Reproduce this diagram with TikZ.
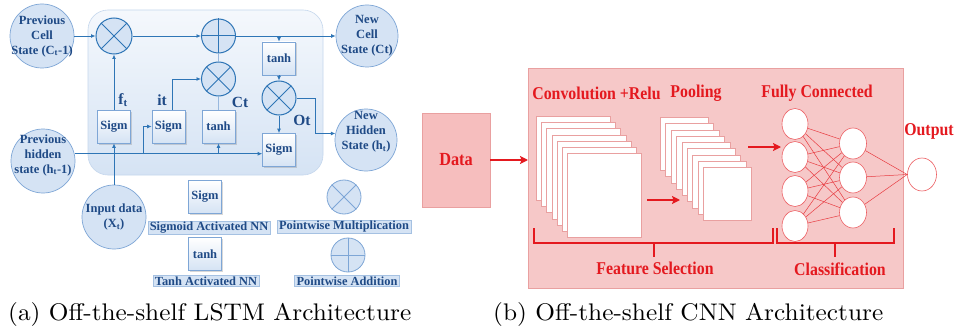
\documentclass[tikz,border=0pt]{standalone}
\usepackage{fontspec}
\newfontfamily\dfont{Liberation Serif}
\newfontfamily\rfont[FakeStretch=0.88]{Liberation Serif}
\usetikzlibrary{arrows.meta,shapes.geometric,shadows,calc}
\definecolor{lblue}{HTML}{2E75B6}
\definecolor{tblue}{HTML}{1F4A86}
\definecolor{cfill}{HTML}{D5E3F4}
\definecolor{cdraw}{HTML}{7EA6D6}
\definecolor{pfill}{HTML}{F6C8C8}
\definecolor{pdraw}{HTML}{E9A0A0}
\definecolor{rred}{HTML}{E4191F}
\tikzset{
  bigcirc/.style={circle, minimum size=64pt, inner sep=0pt, fill=cfill, draw=cdraw, line width=0.7pt},
  ctext/.style={align=center, text=tblue, inner sep=0pt, font=\dfont\bfseries\fontsize{12.5}{15}\selectfont},
  opc/.style={circle, minimum size=34pt, inner sep=0pt, fill=cfill, draw=lblue, line width=1pt},
  gbox/.style={rectangle, minimum width=33pt, minimum height=33pt, inner sep=0pt, draw=cdraw, line width=0.6pt,
    top color=white, bottom color=cfill, drop shadow={opacity=0.3, shadow xshift=1.5pt, shadow yshift=-1.5pt},
    text=tblue, font=\dfont\bfseries\fontsize{12.5}{14}\selectfont},
  legl/.style={fill=cfill, draw=cdraw!70, line width=0.5pt, inner xsep=2pt, inner ysep=1pt, text=tblue,
    font=\dfont\bfseries\fontsize{12.4}{14}\selectfont},
  glabel/.style={text=tblue, inner sep=0pt, font=\dfont\bfseries\fontsize{15.5}{17}\selectfont},
  barrow/.style={draw=lblue, line width=0.9pt, -{Latex[length=4.5pt,width=4pt]}},
  bline/.style={draw=lblue, line width=0.9pt},
  gline/.style={draw=cdraw!80, line width=0.9pt},
  rtext/.style={text=rred, inner sep=0pt, font=\rfont\bfseries\fontsize{18}{20}\selectfont},
  rarrow/.style={draw=rred, line width=1.5pt, -{Stealth[length=8pt,width=8pt,inset=1.5pt]}},
  rline/.style={draw=rred!85, line width=0.5pt},
  brack/.style={draw=rred, line width=2.3pt},
  sq/.style={rectangle, anchor=north west, inner sep=0pt, fill=white, draw=pdraw, line width=0.6pt},
  fcn/.style={ellipse, inner sep=0pt, fill=white, draw=rred!70, line width=0.6pt},
  capt/.style={anchor=base west, inner sep=0pt}
}
\begin{document}
\begin{tikzpicture}[x=1pt,y=-1pt]
\useasboundingbox (0,0) rectangle (956,329);
\fill[white] (0,0) rectangle (956,329);

% ---------------- LSTM ----------------
\node[rectangle, rounded corners=20pt, minimum width=235pt, minimum height=165pt, inner sep=0pt,
      draw=cdraw!45, line width=0.6pt, top color=cfill!25, bottom color=cfill] (cell) at (205.5,92.5) {};

\node[bigcirc] (cprev) at (42,36) {};
\node[ctext] (cprevt) at (42,36) {Previous\\Cell\\State (C\textsubscript{t}-1)};
\node[bigcirc] (hprev) at (43,161) {};
\node[ctext] (hprevt) at (43,155) {Previous\\hidden\\state (h\textsubscript{t}-1)};
\node[bigcirc] (xin) at (114,217) {};
\node[ctext] (xint) at (114,217) {Input data\\(X\textsubscript{t})};
\node[bigcirc, minimum size=62pt] (ncell) at (367,36) {};
\node[ctext] (ncellt) at (367,36) {New\\Cell\\State (Ct)};
\node[bigcirc, minimum size=62pt] (nhid) at (366,140) {};
\node[ctext] (nhidt) at (366,132) {New\\Hidden\\State (h\textsubscript{t})};

% operators
\node[opc, minimum size=36pt] (m1) at (114,36) {};
\node[opc] (a1) at (218.5,36) {};
\node[opc] (m2) at (218.5,79) {};
\node[opc] (m3) at (279,98) {};
\draw[lblue, line width=1pt] (m1.north west) -- (m1.south east) (m1.north east) -- (m1.south west);
\draw[lblue, line width=1pt] (m2.north west) -- (m2.south east) (m2.north east) -- (m2.south west);
\draw[lblue, line width=1pt] (m3.north west) -- (m3.south east) (m3.north east) -- (m3.south west);
\draw[lblue, line width=1pt] (a1.north) -- (a1.south) (a1.west) -- (a1.east);

% boxes
\node[gbox] (sf) at (114,126.5) {Sigm};
\node[gbox] (si) at (168.5,126.5) {Sigm};
\node[gbox] (tm) at (218.5,126.5) {tanh};
\node[gbox] (tt) at (279,58.5) {tanh};
\node[gbox] (so) at (279,150) {Sigm};

% labels
\node[glabel] (lf) at (123,100) {f\textsubscript{t}};
\node[glabel] (li) at (162,100) {it};
\node[glabel] (lc) at (240,102) {Ct};
\node[glabel] (lo) at (302,120) {Ot};

% connectors
\draw[barrow] (cprev.east) -- (m1.west);
\draw[barrow] (m1.east) -- (a1.west);
\draw[barrow] (a1.east) -- (ncell.west);
\coordinate (br1) at (279,36);
\draw[barrow] (br1) -- (tt.north);
\draw[barrow] (tt.south) -- (m3.north);
\draw[barrow] (m3.south) -- (so.north);
\coordinate (k1) at (315,98);
\draw[barrow] (m3.east) -- (k1) |- (nhid.168);
\draw[barrow] (hprev.13) -- (so.west |- hprev.13);
\coordinate (b2) at (143,154);
\draw[barrow] (b2) |- (si.west);
\draw[barrow] (tm.south |- b2) -- (tm.south);
\draw[barrow] (xin) -- (sf);
\draw[barrow] (sf) -- (m1);
\coordinate (sit) at (172,110);
\draw[barrow] (sit) |- (m2.west);
\draw[gline] (tm.north) -- (m2.south);
\draw[gline] (m2.north) -- (a1.south);

% legend
\node[gbox] (lsig) at (205,197) {Sigm};
\node[legl] (lsigt) at (209,228) {Sigmoid Activated NN};
\node[gbox] (ltanh) at (205,254) {tanh};
\node[legl] (ltanht) at (206,281) {Tanh Activated NN};
\node[opc, draw=cdraw, line width=0.8pt] (lm) at (344,197) {};
\draw[cdraw, line width=0.8pt] (lm.north west) -- (lm.south east) (lm.north east) -- (lm.south west);
\node[legl] (lmt) at (344,227) {Pointwise Multiplication};
\node[opc, draw=cdraw, line width=0.8pt] (la) at (348,255) {};
\draw[cdraw, line width=0.8pt] (la.north) -- (la.south) (la.west) -- (la.east);
\node[legl] (lat) at (347,281) {Pointwise Addition};

% ---------------- CNN ----------------
\node[rectangle, anchor=north west, minimum width=375pt, minimum height=220pt, inner sep=0pt,
      fill=pfill, draw=pdraw, line width=0.8pt] (cnn) at (528,68) {};
\node[rectangle, minimum width=68pt, minimum height=94pt, inner sep=0pt, fill=pfill!95!red, draw=pdraw,
      line width=0.8pt, text=rred, font=\rfont\bfseries\fontsize{18.5}{20}\selectfont] (data) at (456,160) {Data};
\draw[rarrow] (data.east) -- (cnn.west |- data.east);

\node[rtext] (tconv) at (596.5,93) {Convolution +Relu};
\node[rtext] (tpool) at (696,93) {Pooling};
\node[rtext] (tfc) at (817,93) {Fully Connected};
\node[rtext] (tout) at (929,131) {Output};

\foreach \i in {0,...,6}
  \node[sq, minimum width=74pt, minimum height=84pt] (conv\i) at ({536+5.17*\i},{116+6.17*\i}) {};
\foreach \i in {0,...,8}
  \node[sq, minimum width=48pt, minimum height=53pt] (pool\i) at ({660+5.375*\i},{117+6.25*\i}) {};

\coordinate (c2ps) at (647,200);
\coordinate (c2pe) at (680,200);
\draw[rarrow] (c2ps) -- (c2pe);
\coordinate (p2fs) at (748,147);
\coordinate (p2fe) at (781,147);
\draw[rarrow] (p2fs) -- (p2fe);

\foreach \y [count=\i] in {124,157,191,226}
  \node[fcn, minimum width=26pt, minimum height=31pt] (f\i) at (795,\y) {};
\foreach \y [count=\j] in {143.5,177.5,212.5}
  \node[fcn, minimum width=27pt, minimum height=31pt] (g\j) at (853,\y) {};
\node[fcn, minimum width=29pt, minimum height=33pt] (o1) at (922,174.5) {};
\foreach \i in {1,...,4}
  \foreach \j in {1,2,3}
    \draw[rline] (f\i) -- (g\j);
\foreach \j in {1,2,3}
  \draw[rline] (g\j) -- (o1.west);

% brackets
\draw[brack] (534,228) -- (534,243) -- (773,243) -- (773,228);
\draw[brack] (654,243) -- (654,257);
\draw[brack] (777,228) -- (777,243) -- (894,243) -- (894,228);
\draw[brack] (835,243) -- (835,257);
\node[rtext] (tfs) at (655,268) {Feature Selection};
\node[rtext] (tcl) at (840,269) {Classification};

% captions
\node[capt] (capa) at (8,320) {\resizebox{403pt}{18pt}{(a) Off-the-shelf LSTM Architecture}};
\node[capt] (capb) at (493,320) {\resizebox{390pt}{18pt}{(b) Off-the-shelf CNN Architecture}};
\end{tikzpicture}
\end{document}
